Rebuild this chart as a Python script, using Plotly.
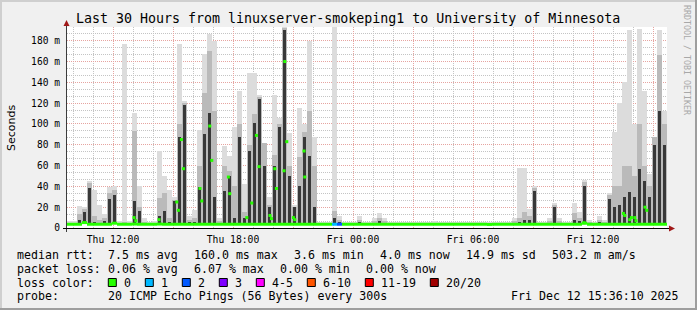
import plotly.graph_objects as go

W, H = 697, 310
PL, PT, PW, PH = 67, 27, 600, 201   # plot area in pixels

START_H = 9.7      # hours since Thu 00:00 at the left edge
STEP_H = 0.25      # one column = 15 min
MIN_RTT = 3.6      # ms, from legend
Y_MAX = 193.2

# --- smoke (ms) per 15-minute column: outer (light), middle, core (dark) ---
smoke_max = [7, 7, 21, 20, 45, 37, 22, 13, 39, 40,
             7, 177, 7, 111, 40, 10, 6, 7, 74, 50,
             37, 30, 177, 122, 12, 17, 94, 167, 186, 180,
             10, 79, 69, 97, 132, 42, 149, 149, 128, 82,
             30, 128, 106, 193, 91, 22, 115, 100, 180, 87,
             6, 6, 6, 193, 12, 6, 6, 6, 12, 6,
             6, 10, 14, 10, 6, 6, 6, 6, 6, 6,
             6, 6, 6, 7, 6, 6, 6, 6, 6, 6,
             6, 6, 6, 6, 6, 6, 6, 6, 6, 10,
             58, 58, 18, 40, 6, 6, 10, 24, 10, 6,
             6, 24, 15, 46, 8, 6, 12, 8, 34, 92,
             120, 140, 190, 100, 191, 132, 52, 87, 190, 112]
smoke_mid = [5, 5, 13, 18, 43, 12, 8, 10, 34, 37,
             5, 6, 5, 93, 20, 6, 5, 5, 29, 34,
             10, 27, 100, 120, 8, 10, 60, 130, 170, 112,
             7, 60, 55, 40, 100, 15, 80, 110, 126, 82,
             22, 70, 100, 192, 60, 20, 68, 92, 112, 60,
             5, 5, 5, 16, 8, 5, 5, 5, 8, 5,
             5, 7, 10, 7, 5, 5, 5, 5, 5, 5,
             5, 5, 5, 5, 5, 5, 5, 5, 5, 5,
             5, 5, 5, 5, 5, 5, 5, 5, 5, 7,
             10, 15, 12, 38, 5, 5, 7, 22, 7, 5,
             5, 14, 10, 44, 6, 5, 8, 6, 32, 40,
             40, 60, 60, 50, 100, 60, 40, 87, 166, 100]
smoke_core = [4.5, 4.5, 8, 15, 38, 6, 5, 7, 28, 32,
              4.5, 5, 4.5, 26, 16, 5, 4.5, 4.5, 12, 16,
              6, 26, 87, 118, 6, 6, 39, 90, 111, 30,
              5, 36, 50, 10, 87, 10, 74, 101, 124, 60,
              20, 60, 97, 190, 50, 20, 40, 87, 69, 20,
              4.5, 4.5, 4.5, 10, 6, 4.5, 4.5, 4.5, 6, 4.5,
              4.5, 5, 7, 5, 4.5, 4.5, 4.5, 4.5, 4.5, 4.5,
              4.5, 4.5, 4.5, 4.5, 4.5, 4.5, 4.5, 4.5, 4.5, 4.5,
              4.5, 4.5, 4.5, 4.5, 4.5, 4.5, 4.5, 4.5, 4.5, 5,
              6, 8, 8, 36, 4.5, 4.5, 5, 20, 5, 4.5,
              4.5, 8, 7, 40, 5, 4.5, 6, 5, 28, 20,
              22, 30, 35, 30, 57, 45, 30, 80, 112, 80]
median_rtt = [3.6, 3.6, 3.6, 5.2, 3.6, 3.6, 3.6, 3.6, 3.6, 4.6,
              3.6, 3.6, 3.6, 3.8, 3.6, 3.6, 3.6, 3.6, 3.8, 3.6,
              3.6, 3.6, 3.6, 3.6, 3.6, 3.6, 3.6, 3.6, 3.6, 3.6,
              3.6, 3.6, 3.6, 3.6, 3.6, 3.6, 3.6, 3.6, 3.6, 3.6,
              3.6, 3.6, 3.6, 3.6, 3.6, 3.6, 3.6, 3.6, 3.6, 3.6,
              3.6, 3.6, 3.6, 3.6, 3.6, 3.6, 3.6, 3.6, 3.6, 3.6,
              3.6, 3.6, 3.6, 3.6, 3.6, 3.6, 3.6, 3.6, 3.6, 3.6,
              3.6, 3.6, 3.6, 3.6, 3.6, 3.6, 3.6, 3.6, 3.6, 3.6,
              3.6, 3.6, 3.6, 3.6, 3.4, 3.6, 3.6, 3.6, 3.6, 3.6,
              3.6, 3.6, 3.6, 3.6, 3.6, 3.6, 3.6, 3.6, 3.6, 3.6,
              3.6, 3.6, 3.6, 4.6, 3.6, 3.6, 3.6, 3.6, 3.6, 3.6,
              3.6, 3.6, 3.6, 3.6, 3.6, 3.6, 3.6, 3.6, 3.6, 3.6]
loss_count = [0, 0, 0, 0, 0, 0, 0, 0, 0, 0,
              0, 0, 0, 0, 0, 0, 0, 0, 0, 0,
              0, 0, 0, 0, 0, 0, 0, 0, 0, 0,
              0, 0, 0, 0, 0, 0, 0, 0, 0, 0,
              0, 0, 0, 0, 0, 0, 0, 0, 0, 0,
              0, 0, 0, 1, 2, 0, 0, 0, 0, 0,
              0, 0, 0, 0, 0, 0, 0, 0, 0, 0,
              0, 0, 0, 0, 0, 0, 0, 0, 0, 0,
              0, 0, 0, 0, 0, 0, 0, 0, 0, 0,
              0, 0, 0, 0, 0, 0, 0, 0, 0, 0,
              0, 0, 0, 0, 0, 0, 0, 0, 0, 0,
              0, 0, 0, 0, 0, 0, 0, 0, 0, 0]
# isolated median samples (hours since Thu 00:00, ms)
dot_time = [13.05, 13.14, 14.30, 15.19, 15.27, 15.42, 15.52, 16.35, 16.44,
            16.84, 16.94, 17.77, 17.84, 18.69, 18.94, 19.17, 19.30, 19.85,
            19.92, 20.09, 20.17, 20.55, 20.59, 20.69, 21.02, 21.09, 21.55,
            21.59, 35.55, 37.52, 37.59, 37.84, 37.92, 38.09, 38.15, 38.60, 38.69]
dot_rtt = [10, 7, 8, 25, 17, 85, 57, 38, 26,
           98, 65, 49, 33, 10, 24, 89, 59, 12,
           9, 57, 38, 55, 160, 83, 10, 8, 74,
           49, 5, 14, 12, 8, 10, 10, 7, 20, 17]

x_tick_vals = [12, 15, 18, 21, 24, 27, 30, 33, 36, 39]
x_tick_text = ["Thu 12:00", "", "Thu 18:00", "", "Fri 00:00", "", "Fri 06:00", "", "Fri 12:00", ""]
y_tick_vals = [0, 20, 40, 60, 80, 100, 120, 140, 160, 180]
y_tick_text = ["0", "20 m", "40 m", "60 m", "80 m", "100 m", "120 m", "140 m", "160 m", "180 m"]

loss_classes = [("0", 0, 0, "#26ff00"), ("1", 1, 1, "#00b8ff"), ("2", 2, 2, "#0059ff"),
                ("3", 3, 3, "#7e00ff"), ("4-5", 4, 5, "#ff00ff"), ("6-10", 6, 10, "#ff5500"),
                ("11-19", 11, 19, "#ff0000"), ("20/20", 20, 20, "#a10000")]

stats_rtt = ["7.5 ms avg", "160.0 ms max", "3.6 ms min", "4.0 ms now", "14.9 ms sd", "503.2 m am/s"]
stats_loss = ["0.06 % avg", "6.07 % max", "0.00 % min", "0.00 % now"]
probe_text = "20 ICMP Echo Pings (56 Bytes) every 300s"
stamp_text = "Fri Dec 12 15:36:10 2025"
title_text = "Last 30 Hours from linuxserver-smokeping1 to University of Minnesota"

MONO = "DejaVu Sans Mono, monospace"
CHAR_W = 7.0      # legend glyph advance (px)
ITEM_GAP = 16.0   # gap between legend items (px)

def PX(px):
    return (px - PL) / PW

def PY(py):
    return (PT + PH - py) / PH

n = len(smoke_max)
t_mid = [START_H + STEP_H * (i + 0.5) for i in range(n)]

fig = go.Figure()
for arr, col, wfrac in ((smoke_max, "#dcdcdc", 1.0), (smoke_mid, "#bababa", 0.85),
                        (smoke_core, "#383838", 0.65)):
    fig.add_trace(go.Bar(x=t_mid, y=[v - MIN_RTT for v in arr], base=MIN_RTT, width=STEP_H * wfrac,
                         marker=dict(color=col, line=dict(width=0)),
                         hoverinfo="skip", showlegend=False))

for name, lo, hi, col in loss_classes:
    xs, ys = [], []
    for i in range(n):
        if lo <= loss_count[i] <= hi:
            t0 = START_H + STEP_H * i
            xs += [t0, t0 + STEP_H, None]
            ys += [median_rtt[i], median_rtt[i], None]
    if xs:
        fig.add_trace(go.Scatter(x=xs, y=ys, mode="lines", line=dict(color=col, width=3),
                                 hoverinfo="skip", showlegend=False))

fig.add_trace(go.Scatter(x=dot_time, y=dot_rtt, mode="markers",
                         marker=dict(symbol="square", size=3, color="#26ff00", line=dict(width=0)),
                         hoverinfo="skip", showlegend=False))

shapes = []
# outer 3D frame
shapes.append(dict(type="rect", xref="paper", yref="paper", x0=PX(0), x1=PX(W), y0=PY(0), y1=PY(2),
                   fillcolor="#cfcfcf", line=dict(width=0), layer="below"))
shapes.append(dict(type="rect", xref="paper", yref="paper", x0=PX(0), x1=PX(2), y0=PY(0), y1=PY(H),
                   fillcolor="#cfcfcf", line=dict(width=0), layer="below"))
shapes.append(dict(type="rect", xref="paper", yref="paper", x0=PX(0), x1=PX(W), y0=PY(H - 2), y1=PY(H),
                   fillcolor="#9e9e9e", line=dict(width=0), layer="below"))
shapes.append(dict(type="rect", xref="paper", yref="paper", x0=PX(W - 2), x1=PX(W), y0=PY(0), y1=PY(H),
                   fillcolor="#9e9e9e", line=dict(width=0), layer="below"))
# axes
shapes.append(dict(type="line", xref="paper", yref="paper", x0=PX(66.5), x1=PX(66.5), y0=PY(232), y1=PY(24),
                   line=dict(color="#3c3c3c", width=1)))
shapes.append(dict(type="line", xref="paper", yref="paper", x0=PX(63), x1=PX(670), y0=PY(228.5), y1=PY(228.5),
                   line=dict(color="#000000", width=1)))
shapes.append(dict(type="path", xref="paper", yref="paper",
                   path=f"M {PX(63.5)} {PY(26)} L {PX(69.5)} {PY(26)} L {PX(66.5)} {PY(20)} Z",
                   fillcolor="#a01818", line=dict(width=0)))
shapes.append(dict(type="path", xref="paper", yref="paper",
                   path=f"M {PX(669)} {PY(225.5)} L {PX(669)} {PY(231.5)} L {PX(675)} {PY(228.5)} Z",
                   fillcolor="#a01818", line=dict(width=0)))

ann = []
def text(px, py, s, size=11.6, anchor="left", color="#000", family=MONO, angle=0):
    ann.append(dict(xref="paper", yref="paper", x=PX(px), y=PY(py), text=s, showarrow=False,
                    xanchor=anchor, yanchor="middle", textangle=angle, borderpad=0,
                    font=dict(family=family, size=size, color=color)))

text(347.7, 18, title_text, size=13.3, anchor="center")
text(11, 128, "Seconds", size=11, anchor="center", family="DejaVu Sans, sans-serif", angle=-90)
text(687, 60, "RRDTOOL / TOBI OETIKER", size=8.3, anchor="center", color="#a8a8a8", angle=90)

ROW = [255, 268.5, 282.5, 296]
COL1 = 107.3

def stat_row(py, label, items):
    text(16, py, label)
    px = COL1
    for s in items:
        text(px, py, s)
        px += CHAR_W * len(s) + ITEM_GAP

stat_row(ROW[0], "median rtt:", stats_rtt)
stat_row(ROW[1], "packet loss:", stats_loss)
text(16, ROW[2], "loss color:")
bx = 108.3
for name, lo, hi, col in loss_classes:
    shapes.append(dict(type="rect", xref="paper", yref="paper", x0=PX(bx), x1=PX(bx + 8),
                       y0=PY(278.5), y1=PY(286.5), fillcolor=col, line=dict(color="#000", width=1)))
    text(bx + 15, ROW[2], name)
    bx += 30 + CHAR_W * len(name)
text(16, ROW[3], "probe:")
text(COL1, ROW[3], probe_text)
text(680, ROW[3], stamp_text, anchor="right")

fig.update_layout(
    width=W, height=H, margin=dict(l=PL, r=W - PL - PW, t=PT, b=H - PT - PH, pad=0),
    paper_bgcolor="#f0f0f0", plot_bgcolor="#ffffff",
    barmode="overlay", bargap=0, showlegend=False,
    shapes=shapes, annotations=ann,
    xaxis=dict(range=[START_H, START_H + 30], tickmode="array", tickvals=x_tick_vals, ticktext=x_tick_text,
               showgrid=True, gridcolor="#e6a4a0", gridwidth=1, griddash="1px,1px",
               minor=dict(tickmode="array", tickvals=list(range(10, 40)), showgrid=True,
                          gridcolor="#c4c4c4", gridwidth=1, griddash="1px,1px", ticks=""),
               showline=False, zeroline=False, ticks="", ticklabelstandoff=4,
               tickfont=dict(family=MONO, size=9.7, color="#000")),
    yaxis=dict(range=[0, Y_MAX], tickmode="array", tickvals=y_tick_vals, ticktext=y_tick_text,
               showgrid=True, gridcolor="#e6a4a0", gridwidth=1, griddash="1px,1px",
               minor=dict(tickmode="linear", tick0=0, dtick=20 / 3, showgrid=True,
                          gridcolor="#c4c4c4", gridwidth=1, griddash="1px,1px", ticks=""),
               showline=False, zeroline=False, ticks="", ticklabelstandoff=6,
               tickfont=dict(family=MONO, size=9.6, color="#000")),
)

fig.write_html("out.html")
